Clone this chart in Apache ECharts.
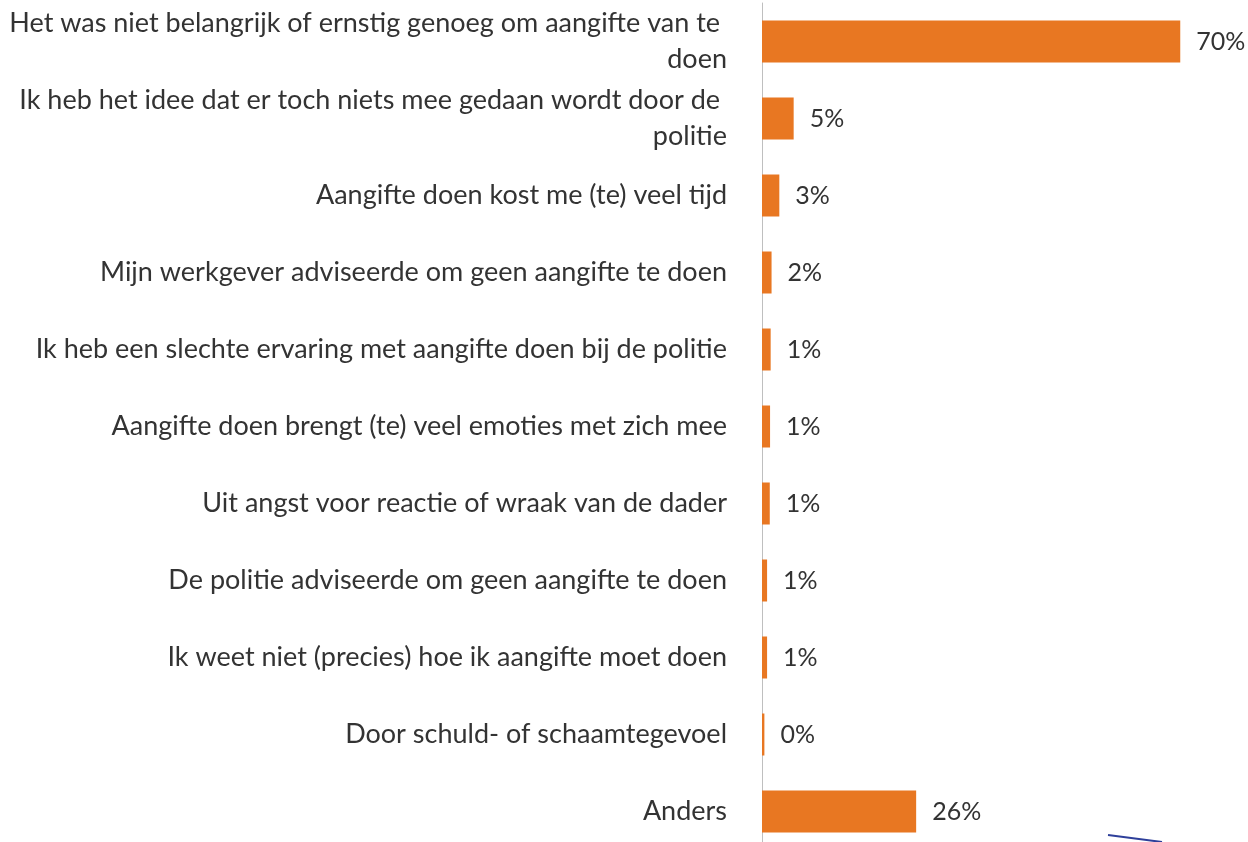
<!DOCTYPE html>
<html>
<head>
<meta charset="utf-8">
<script src="https://cdn.jsdelivr.net/npm/echarts@6/dist/echarts.min.js"></script>
<style>
html,body{margin:0;padding:0;background:#fff;}
#chart{width:1248px;height:842px;}
</style>
</head>
<body>
<div id="chart"></div>
<script>
const categories = [
  "Het was niet belangrijk of ernstig genoeg om aangifte van te doen",
  "Ik heb het idee dat er toch niets mee gedaan wordt door de politie",
  "Aangifte doen kost me (te) veel tijd",
  "Mijn werkgever adviseerde om geen aangifte te doen",
  "Ik heb een slechte ervaring met aangifte doen bij de politie",
  "Aangifte doen brengt (te) veel emoties met zich mee",
  "Uit angst voor reactie of wraak van de dader",
  "De politie adviseerde om geen aangifte te doen",
  "Ik weet niet (precies) hoe ik aangifte moet doen",
  "Door schuld- of schaamtegevoel",
  "Anders"
];
const values = [70.0, 5.3, 2.9, 1.6, 1.45, 1.35, 1.3, 0.85, 0.85, 0.4, 25.8];

const chart = echarts.init(document.getElementById('chart'), null, {renderer: 'canvas'});
const FONT = 'Lato';
chart.setOption({
  animation: false,
  backgroundColor: '#ffffff',
  textStyle: {fontFamily: FONT},
  grid: {left: 762, right: 8, top: 3, height: 847, containLabel: false, outerBoundsMode: 'none'},
  xAxis: {
    type: 'value', min: 0, max: 80,
    show: false
  },
  yAxis: {
    type: 'category',
    data: categories,
    inverse: true,
    axisLine: {show: true, lineStyle: {color: '#bfbfbf', width: 1}},
    axisTick: {show: false},
    splitLine: {show: false},
    axisLabel: {
      margin: 35,
      fontFamily: FONT,
      fontSize: 27,
      color: '#333333',
      lineHeight: 36,
      width: 720,
      overflow: 'break',
      align: 'right'
    }
  },
  series: [{
    type: 'bar',
    data: values,
    barWidth: 42,
    itemStyle: {color: '#E87722'},
    label: {
      show: true,
      position: 'right',
      distance: 16,
      fontFamily: FONT,
      fontSize: 25,
      color: '#333333',
      formatter: p => Math.round(p.value) + '%'
    }
  }],
  graphic: [{
    type: 'line',
    shape: {x1: 1108, y1: 835, x2: 1162, y2: 842},
    style: {stroke: '#2E3F9A', lineWidth: 2}
  }]
});
</script>
</body>
</html>
